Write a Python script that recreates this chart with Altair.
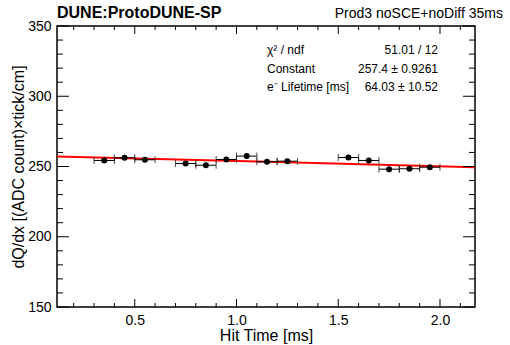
import altair as alt
import pandas as pd

# ---- data ----
hit_time = [0.35, 0.45, 0.55, 0.75, 0.85, 0.95, 1.05, 1.15, 1.25, 1.55, 1.65, 1.75, 1.85, 1.95]
dqdx = [254.3, 256.2, 254.8, 252.1, 250.9, 255.0, 257.4, 253.4, 253.8, 256.4, 254.3, 248.1, 248.4, 249.5]
dqdx_err = [1.6, 1.2, 1.4, 1.4, 1.6, 1.2, 1.2, 1.4, 1.4, 1.2, 1.4, 1.5, 1.5, 1.3]
time_halfwidth = [0.05] * len(hit_time)

fit_time = [0.118, 1.15, 2.172]
fit_dqdx = [257.2, 253.3, 249.4]

x_major = [0.5, 1.0, 1.5, 2.0]
x_minor = [0.2, 0.3, 0.4, 0.6, 0.7, 0.8, 0.9, 1.1, 1.2, 1.3, 1.4, 1.6, 1.7, 1.8, 1.9, 2.1]
y_major = [150, 200, 250, 300, 350]
y_minor = [160, 170, 180, 190, 210, 220, 230, 240, 260, 270, 280, 290, 310, 320, 330, 340]

stats_left = ["χ² / ndf", "Constant", "e⁻ Lifetime [ms]"]
stats_right = ["51.01 / 12", "257.4 ± 0.9261", "64.03 ± 10.52"]

title_left = "DUNE:ProtoDUNE-SP"
title_right = "Prod3 noSCE+noDiff 35ms"

W, H = 418, 281
FONT = "Liberation Sans"

pts = pd.DataFrame({
    "t": hit_time,
    "q": dqdx,
    "tlo": [a - b for a, b in zip(hit_time, time_halfwidth)],
    "thi": [a + b for a, b in zip(hit_time, time_halfwidth)],
    "qlo": [a - b for a, b in zip(dqdx, dqdx_err)],
    "qhi": [a + b for a, b in zip(dqdx, dqdx_err)],
})
fit = pd.DataFrame({"t": fit_time, "q": fit_dqdx})

xscale = alt.Scale(domain=[0.118, 2.172], nice=False, zero=False)
yscale = alt.Scale(domain=[150, 350], nice=False, zero=False)

xaxis = alt.Axis(values=x_major, format=".1f", ticks=False, tickSize=0, domain=False, grid=False,
                 labelFont=FONT, labelFontSize=14, labelColor="black", labelBaseline="alphabetic",
                 labelPadding=17, title="Hit Time [ms]", titleFont=FONT, titleFontSize=16,
                 titleFontWeight="normal", titleColor="black", titleX=W / 2, titleY=33,
                 titleBaseline="alphabetic", titleAlign="center")
yaxis = alt.Axis(values=y_major, format="d", ticks=False, tickSize=0, domain=False, grid=False,
                 labelFont=FONT, labelFontSize=14, labelColor="black", labelPadding=6,
                 title="dQ/dx [(ADC count)×tick/cm]", titleFont=FONT, titleFontSize=16,
                 titleFontWeight="normal", titleColor="black", titleX=-34, titleY=H / 2,
                 titleAngle=-90, titleBaseline="alphabetic", titleAlign="center")

base = alt.Chart(pts)

fit_line = alt.Chart(fit).mark_line(color="#ff0000", strokeWidth=2, clip=True).encode(
    x=alt.X("t:Q", scale=xscale, axis=xaxis),
    y=alt.Y("q:Q", scale=yscale, axis=yaxis),
)
xerr = base.mark_rule(color="black", strokeWidth=1).encode(x="tlo:Q", x2="thi:Q", y="q:Q")
yerr = base.mark_rule(color="black", strokeWidth=1).encode(x="t:Q", y="qlo:Q", y2="qhi:Q")
cap_lo = base.mark_tick(orient="vertical", color="black", size=7, thickness=1).encode(x="tlo:Q", y="q:Q")
cap_hi = base.mark_tick(orient="vertical", color="black", size=7, thickness=1).encode(x="thi:Q", y="q:Q")
points = base.mark_circle(color="black", size=36, opacity=1).encode(x="t:Q", y="q:Q")

def yticks(vals, length):
    d = pd.DataFrame({"v": vals})
    left = alt.Chart(d).mark_rule(color="black", strokeWidth=1).encode(
        y="v:Q", x=alt.value(0), x2=alt.value(length))
    right = alt.Chart(d).mark_rule(color="black", strokeWidth=1).encode(
        y="v:Q", x=alt.value(W - length), x2=alt.value(W))
    return [left, right]

def xticks(vals, length):
    d = pd.DataFrame({"v": vals})
    bottom = alt.Chart(d).mark_rule(color="black", strokeWidth=1).encode(
        x="v:Q", y=alt.value(H), y2=alt.value(H - length))
    top = alt.Chart(d).mark_rule(color="black", strokeWidth=1).encode(
        x="v:Q", y=alt.value(0), y2=alt.value(length))
    return [bottom, top]

tick_layers = yticks(y_major, 12) + yticks(y_minor, 6) + xticks(x_major, 8) + xticks(x_minor, 4)

tl = alt.Chart(pd.DataFrame({"s": [title_left]})).mark_text(
    font=FONT, fontSize=16, fontWeight="bold", align="left", baseline="alphabetic", color="black"
).encode(text="s:N", x=alt.value(0), y=alt.value(-8))
tr = alt.Chart(pd.DataFrame({"s": [title_right]})).mark_text(
    font=FONT, fontSize=14, align="right", baseline="alphabetic", color="black"
).encode(text="s:N", x=alt.value(446), y=alt.value(-8))

stat_layers = []
for i, (a, b) in enumerate(zip(stats_left, stats_right)):
    yb = 28 + i * 18.7
    stat_layers.append(alt.Chart(pd.DataFrame({"s": [a]})).mark_text(
        font=FONT, fontSize=12, align="left", baseline="alphabetic", color="black"
    ).encode(text="s:N", x=alt.value(210), y=alt.value(yb)))
    stat_layers.append(alt.Chart(pd.DataFrame({"s": [b]})).mark_text(
        font=FONT, fontSize=12, align="right", baseline="alphabetic", color="black"
    ).encode(text="s:N", x=alt.value(381), y=alt.value(yb)))

chart = alt.layer(
    fit_line, xerr, yerr, cap_lo, cap_hi, points, *tick_layers, tl, tr, *stat_layers
).properties(
    width=W, height=H,
    autosize=alt.AutoSizeParams(type="none"),
    padding={"left": 57, "top": 26, "right": 35, "bottom": 38},
    background="white",
).configure_view(stroke="black", strokeWidth=1.5)

chart.save("out.html", embed_options={"renderer": "svg", "actions": False})
